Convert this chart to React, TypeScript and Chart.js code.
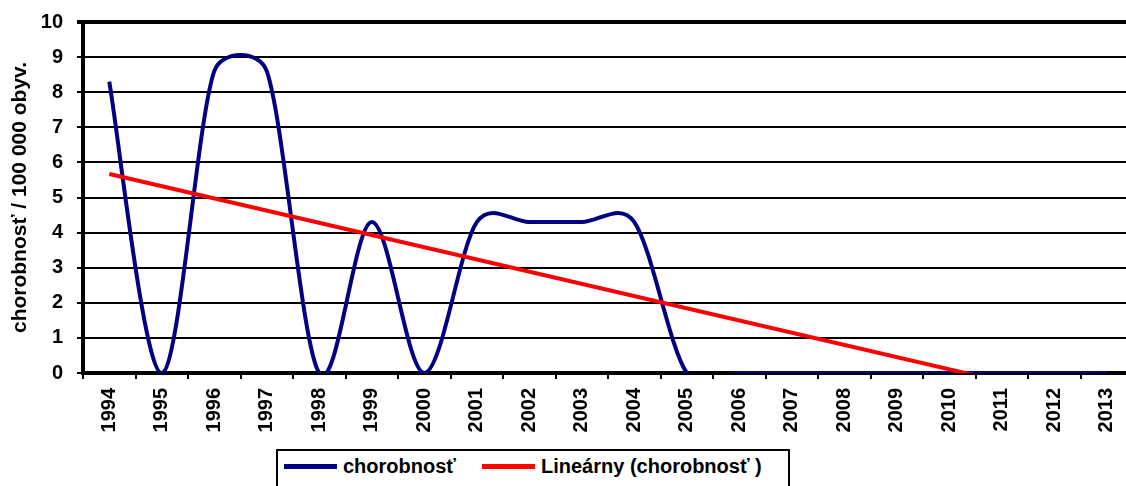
import React, { useEffect, useRef } from "react";
import { Chart, registerables } from "chart.js";

Chart.register(...registerables);

const years: string[] = [
  "1994", "1995", "1996", "1997", "1998", "1999", "2000", "2001", "2002", "2003",
  "2004", "2005", "2006", "2007", "2008", "2009", "2010", "2011", "2012", "2013",
];

const chorobnost: number[] = [
  8.3, 0, 8.6, 8.6, 0, 4.3, 0, 4.3, 4.3, 4.3,
  4.3, 0, 0, 0, 0, 0, 0, 0, 0, 0,
];

// linear trend (start and end values)
const trendStart = 5.67;
const trendEnd = -0.94;
const trend: (number | null)[] = years.map((_, i) =>
  i === 0 ? trendStart : i === years.length - 1 ? trendEnd : null
);

const seriesLabel = "chorobnosť";
const trendLabel = "Lineárny (chorobnosť )";
const yTitle = "chorobnosť / 100 000 obyv.";

const FONT = "'Liberation Sans', Arial, sans-serif";

// Excel-like smoothing: Catmull-Rom arms (1/6 of neighbour chord),
// shortened towards a much shorter neighbouring segment.
const excelSmooth = {
  id: "excelSmooth",
  beforeDatasetDraw(chart: any, args: any) {
    const meta = args.meta;
    const ds: any = chart.data.datasets[args.index];
    if (!ds || !ds.excelSmooth || !meta.dataset) return;
    meta.dataset.updateControlPoints(chart.chartArea, "x");
    const pts = meta.data;
    const K = 2.5;
    for (let i = 0; i < pts.length; i++) {
      const cur = pts[i];
      const prev = i > 0 ? pts[i - 1] : cur;
      const next = i < pts.length - 1 ? pts[i + 1] : cur;
      const tx = (next.x - prev.x) / 6;
      const ty = (next.y - prev.y) / 6;
      const d01 = Math.hypot(cur.x - prev.x, cur.y - prev.y);
      const d12 = Math.hypot(next.x - cur.x, next.y - cur.y);
      const sb = d12 > 0 && d01 > 0 ? Math.min(1, (K * d01) / d12) : 1;
      const sf = d01 > 0 && d12 > 0 ? Math.min(1, (K * d12) / d01) : 1;
      cur.cp1x = cur.x - tx * sb;
      cur.cp1y = cur.y - ty * sb;
      cur.cp2x = cur.x + tx * sf;
      cur.cp2y = cur.y + ty * sf;
    }
    meta.dataset._pointsUpdated = true;
    meta.dataset._path = undefined;
  },
};

export default function App() {
  const ref = useRef<HTMLCanvasElement | null>(null);

  useEffect(() => {
    if (!ref.current) return;
    const chart = new Chart(ref.current, {
      type: "line",
      plugins: [excelSmooth],
      data: {
        labels: years,
        datasets: [
          {
            label: trendLabel,
            data: trend,
            borderColor: "#FF0000",
            backgroundColor: "#FF0000",
            borderWidth: 4,
            pointRadius: 0,
            tension: 0,
            spanGaps: true,
            order: 1,
          },
          {
            label: seriesLabel,
            data: chorobnost,
            borderColor: "#000080",
            backgroundColor: "#000080",
            borderWidth: 4,
            pointRadius: 0,
            tension: 0.5,
            capBezierPoints: false,
            excelSmooth: true,
            order: 2,
          } as any,
        ],
      },
      options: {
        responsive: false,
        animation: false,
        layout: { padding: { left: 0, right: 4, top: 22, bottom: 0 } },
        plugins: {
          legend: { display: false },
          tooltip: { enabled: false },
        },
        scales: {
          x: {
            type: "category",
            offset: true,
            afterFit: (scale: any) => {
              scale.height = 113;
            },
            grid: {
              display: true,
              drawOnChartArea: false,
              drawTicks: true,
              tickLength: 6,
              offset: true,
              color: "#000",
              lineWidth: 2,
            },
            border: { display: true, color: "#000", width: 4 },
            ticks: {
              color: "#000",
              font: { family: FONT, size: 20, weight: "bold" },
              minRotation: 90,
              maxRotation: 90,
              autoSkip: false,
              padding: 9,
            },
          },
          y: {
            min: 0,
            max: 10,
            afterFit: (scale: any) => {
              scale.width = 83;
              scale.paddingTop = 10;
            },
            grid: {
              color: "#000",
              lineWidth: (ctx: any) => (ctx.tick && ctx.tick.value === 10 ? 4 : 2),
              tickLength: 6,
              drawTicks: true,
            },
            border: { display: true, color: "#000", width: 4 },
            ticks: {
              stepSize: 1,
              color: "#000",
              font: { family: FONT, size: 20, weight: "bold" },
              padding: 14,
            },
            title: {
              display: true,
              text: yTitle,
              color: "#000",
              font: { family: FONT, size: 21, weight: "bold" },
              padding: { top: 8, bottom: 0 },
            },
          },
        },
      },
    });
    return () => chart.destroy();
  }, []);

  const legendText: React.CSSProperties = {
    position: "absolute",
    top: 4,
    fontFamily: FONT,
    fontWeight: "bold",
    fontSize: 20,
    lineHeight: "22px",
    color: "#000",
    whiteSpace: "nowrap",
  };
  const sample: React.CSSProperties = {
    position: "absolute",
    top: 13,
    height: 5,
    width: 53,
  };

  return (
    <div
      style={{
        position: "fixed",
        left: 0,
        top: 0,
        width: 1126,
        height: 486,
        overflow: "hidden",
        background: "#fff",
      }}
    >
      <canvas ref={ref} width={1140} height={486} style={{ display: "block" }} />
      <div
        style={{
          position: "absolute",
          left: 276,
          top: 449,
          width: 510,
          height: 50,
          border: "2px solid #000",
          background: "#fff",
        }}
      >
        <span style={{ ...sample, left: 6, background: "#000080" }} />
        <span style={{ ...legendText, left: 65 }}>{seriesLabel}</span>
        <span style={{ ...sample, left: 204, background: "#FF0000" }} />
        <span style={{ ...legendText, left: 263 }}>{trendLabel}</span>
      </div>
    </div>
  );
}
